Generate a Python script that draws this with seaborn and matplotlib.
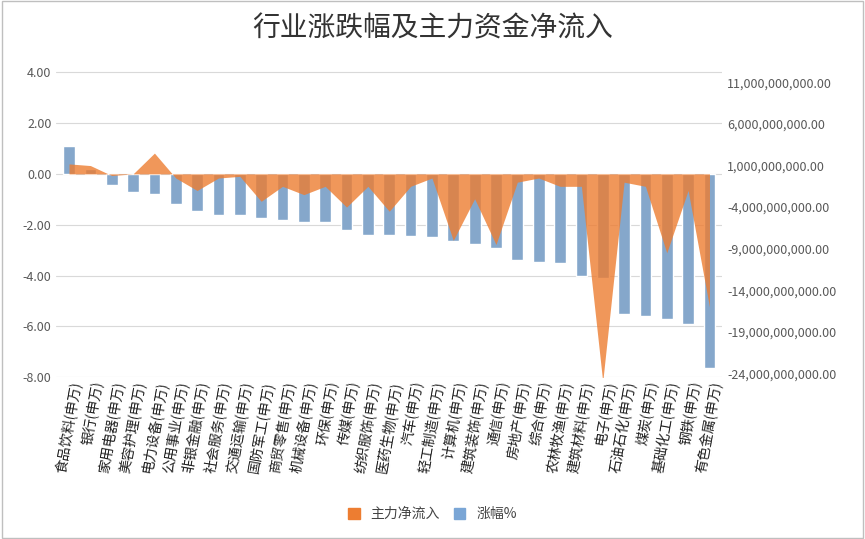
import matplotlib
matplotlib.use("Agg")
import matplotlib.pyplot as plt
import seaborn as sns
import pandas as pd
import numpy as np
from matplotlib.ticker import FuncFormatter

sns.set_theme(style="white")
plt.rcParams['font.family'] = ['Noto Sans CJK SC', 'DejaVu Sans']

industries = ["食品饮料","银行","家用电器","美容护理","电力设备","公用事业","非银金融","社会服务","交通运输","国防军工",
              "商贸零售","机械设备","环保","传媒","纺织服饰","医药生物","汽车","轻工制造","计算机","建筑装饰",
              "通信","房地产","综合","农林牧渔","建筑材料","电子","石油石化","煤炭","基础化工","钢铁","有色金属"]
labels = [s + "(申万)" for s in industries]
change_pct = [1.1,0.2,-0.45,-0.7,-0.8,-1.2,-1.45,-1.6,-1.6,-1.75,-1.8,-1.9,-1.9,-2.2,-2.4,-2.4,-2.45,-2.5,-2.65,-2.75,
              -2.9,-3.4,-3.45,-3.5,-4.0,-4.1,-5.5,-5.6,-5.7,-5.9,-7.65]
net_inflow_e9 = [1.2,1.0,-0.2,0.0,2.5,-0.5,-2.0,-0.5,-0.3,-3.3,-1.5,-2.5,-1.5,-4.0,-1.5,-4.5,-1.5,-0.5,-8.0,-3.0,
                 -8.5,-1.0,-0.5,-1.5,-1.5,-25.0,-1.0,-1.5,-9.5,-2.0,-16.0]
net_inflow = [v*1e9 for v in net_inflow_e9]

df = pd.DataFrame({"行业": labels, "涨幅%": change_pct, "主力净流入": net_inflow})
x = np.arange(len(df))

fig = plt.figure(figsize=(8.65, 5.39), dpi=100)
ax = fig.add_axes([0.065, 0.30, 0.77, 0.585])
ax2 = ax.twinx()

sns.barplot(data=df, x="行业", y="涨幅%", color="#7aa6d6", width=0.55, ax=ax, zorder=2)
ax2.fill_between(x, df["主力净流入"], 0, color="#ed7d31", alpha=0.8, linewidth=0, zorder=3)

ax.set_ylim(-8, 4.4)
k = 3.06e9
ax2.set_ylim(-8*k, 4.4*k)
ax.set_yticks(np.arange(-8, 4.1, 2))
ax.yaxis.set_major_formatter(FuncFormatter(lambda v, p: f"{v:.2f}"))
ax2.set_yticks(np.arange(-24e9, 11.1e9, 5e9))
ax2.yaxis.set_major_formatter(FuncFormatter(lambda v, p: f"{v:,.2f}"))
ax.set_xlim(-0.6, len(df)-0.4)
ax.grid(axis="y", color="#d9d9d9", linewidth=0.8)
ax.set_axisbelow(True)
ax.set_xlabel(""); ax.set_ylabel(""); ax2.set_ylabel("")
ax.set_xticks(x)
ax.set_xticklabels(labels, rotation=80, ha="right", rotation_mode="anchor", fontsize=10, color="#222222")
ax.tick_params(axis="y", labelsize=9, colors="#595959", length=0)
ax2.tick_params(axis="y", labelsize=9, colors="#595959", length=0)
ax.tick_params(axis="x", length=0, pad=2)
for a in (ax, ax2):
    for s in a.spines.values():
        s.set_visible(False)

fig.suptitle("行业涨跌幅及主力资金净流入", fontsize=20, y=0.975, color="#333333")

from matplotlib.patches import Patch
handles = [Patch(color="#ed7d31", label="主力净流入"), Patch(color="#7aa6d6", label="涨幅%")]
fig.legend(handles=handles, loc="lower center", bbox_to_anchor=(0.5, 0.01), ncol=2, frameon=False,
           fontsize=10, handlelength=0.8, handleheight=0.8, columnspacing=1.0, labelcolor="#444444")

fig.patches.append(plt.Rectangle((0.002, 0.002), 0.996, 0.996, transform=fig.transFigure,
                                 fill=False, edgecolor="#bfbfbf", linewidth=1))
fig.savefig("out.png", dpi=100)
